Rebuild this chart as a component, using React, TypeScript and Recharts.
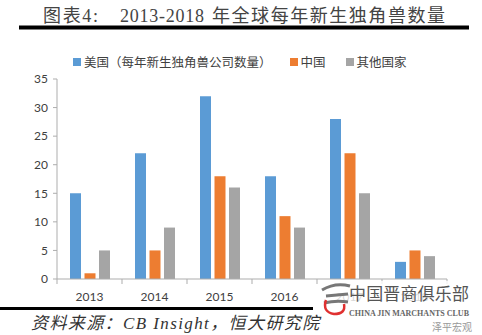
import React from 'react';
import { BarChart, Bar, XAxis, YAxis, Legend } from 'recharts';

const years = ['2013', '2014', '2015', '2016', '2017', '2018'];
const usa = [15, 22, 32, 18, 28, 3];
const china = [1, 5, 18, 11, 22, 5];
const others = [5, 9, 16, 9, 15, 4];
const yTicks = [0, 5, 10, 15, 20, 25, 30, 35];
const seriesNames = ['美国（每年新生独角兽公司数量）', '中国', '其他国家'];
const seriesKeys = ['usa', 'china', 'others'];
const colors = ['#5B9BD5', '#ED7D31', '#A5A5A5'];
const titleParts = ['图表4:', '2013-2018', '年全球每年新生独角兽数量'];
const sourceText = '资料来源：CB Insight，恒大研究院';

const data = years.map((y, i) => ({ year: y, usa: usa[i], china: china[i], others: others[i] }));

const W = 482;
const H = 335;
const M = { top: 60, right: 35, bottom: 26, left: 0 };
const Y_W = 57;
const X_H = 30;
const PLOT_W = W - M.left - M.right - Y_W;
const BAND = PLOT_W / years.length;
const AXIS_Y = H - M.bottom - X_H;
const AXIS_COLOR = '#ADADAD';
const CJK = '"Noto Sans CJK SC", sans-serif';
const SERIF = '"Liberation Serif", "Noto Sans CJK SC", serif';
const NUM = 'Lato, "Liberation Sans", sans-serif';

const XTick = (props: any) => {
  const { x, payload, index } = props;
  const last = index === years.length - 1;
  return (
    <g>
      <line x1={x - BAND / 2} x2={x - BAND / 2} y1={AXIS_Y} y2={AXIS_Y + 5} stroke={AXIS_COLOR} />
      {last && <line x1={x + BAND / 2} x2={x + BAND / 2} y1={AXIS_Y} y2={AXIS_Y + 5} stroke={AXIS_COLOR} />}
      <text x={x} y={AXIS_Y + 17} textAnchor="middle" dominantBaseline="central" fill="#404040" fontSize={12} fontFamily={NUM}>
        {payload.value}
      </text>
    </g>
  );
};

const LegendContent = () => {
  const gaps = [18, 20, 0];
  return (
    <div style={{ display: 'flex', alignItems: 'center', fontFamily: CJK, fontSize: 12.5, color: '#404040', whiteSpace: 'nowrap' }}>
      {seriesNames.map((n, i) => (
        <div key={n} style={{ display: 'flex', alignItems: 'center', marginRight: gaps[i] }}>
          <span style={{ display: 'inline-block', width: 8, height: 8, background: colors[i], marginRight: 3 }} />
          <span>{n}</span>
        </div>
      ))}
    </div>
  );
};

export default function App() {
  return (
    <div style={{ position: 'absolute', left: 0, top: 0, width: W, height: H, background: '#fff', overflow: 'hidden' }}>
      <BarChart width={W} height={H} data={data} margin={M} barSize={11} barGap={3.5}>
        <YAxis
          width={Y_W}
          domain={[0, 35]}
          ticks={yTicks}
          interval={0}
          tickSize={4}
          tickMargin={5}
          axisLine={{ stroke: AXIS_COLOR }}
          tickLine={{ stroke: AXIS_COLOR }}
          tick={{ fill: '#404040', fontSize: 12, fontFamily: NUM }}
        />
        <XAxis
          dataKey="year"
          height={X_H}
          interval={0}
          tickLine={false}
          axisLine={{ stroke: AXIS_COLOR }}
          tick={<XTick />}
        />
        <Legend
          verticalAlign="top"
          align="left"
          content={<LegendContent />}
          wrapperStyle={{ position: 'absolute', top: 52, left: 73, width: 'auto' }}
        />
        {seriesKeys.map((k, i) => (
          <Bar key={k} dataKey={k} name={seriesNames[i]} fill={colors[i]} isAnimationActive={false} />
        ))}
      </BarChart>
      <svg width={W} height={H} style={{ position: 'absolute', left: 0, top: 0, pointerEvents: 'none' }}>
        <text dominantBaseline="central" fontSize={18} fill="#444" fontFamily={SERIF} y={16}>
          <tspan x={43} textLength={55} lengthAdjust="spacing">{titleParts[0]}</tspan>
          <tspan x={120} textLength={84} lengthAdjust="spacing">{titleParts[1]}</tspan>
          <tspan x={212} textLength={233} lengthAdjust="spacing">{titleParts[2]}</tspan>
        </text>
        <rect x={19} y={25.5} width={450} height={4} fill="#000" />
        <rect x={0} y={307} width={313} height={3} fill="#000" />
        <rect x={330} y={281} width={152} height={54} fill="#fff" opacity={0.8} />
        <text x={31} y={323} dominantBaseline="central" fontSize={17} letterSpacing={1.4} fill="#333" fontStyle="italic" fontFamily={SERIF}>
          {sourceText}
        </text>
        <path d="M322 290 Q335 282 350 286 M326 296 L348 294 M324 303 Q336 300 348 302" stroke="#777" strokeWidth={3} fill="none" />
        <path d="M326 300 Q322 312 334 314 Q346 314 344 304" stroke="#E03030" strokeWidth={2.5} fill="none" />
        <text x={349} y={292} textLength={120} lengthAdjust="spacing" dominantBaseline="central" fontSize={17} fill="#555" fontFamily={CJK}>
          中国晋商俱乐部
        </text>
        <text x={349} y={313} textLength={120} lengthAdjust="spacingAndGlyphs" dominantBaseline="central" fontSize={8.5} fontWeight="bold" fill="#666" fontFamily={'"Liberation Serif", serif'}>
          CHINA JIN MARCHANTS CLUB
        </text>
        <text x={432} y={326} dominantBaseline="central" fontSize={10} fill="#999" fontFamily={CJK}>
          泽平宏观
        </text>
      </svg>
    </div>
  );
}
